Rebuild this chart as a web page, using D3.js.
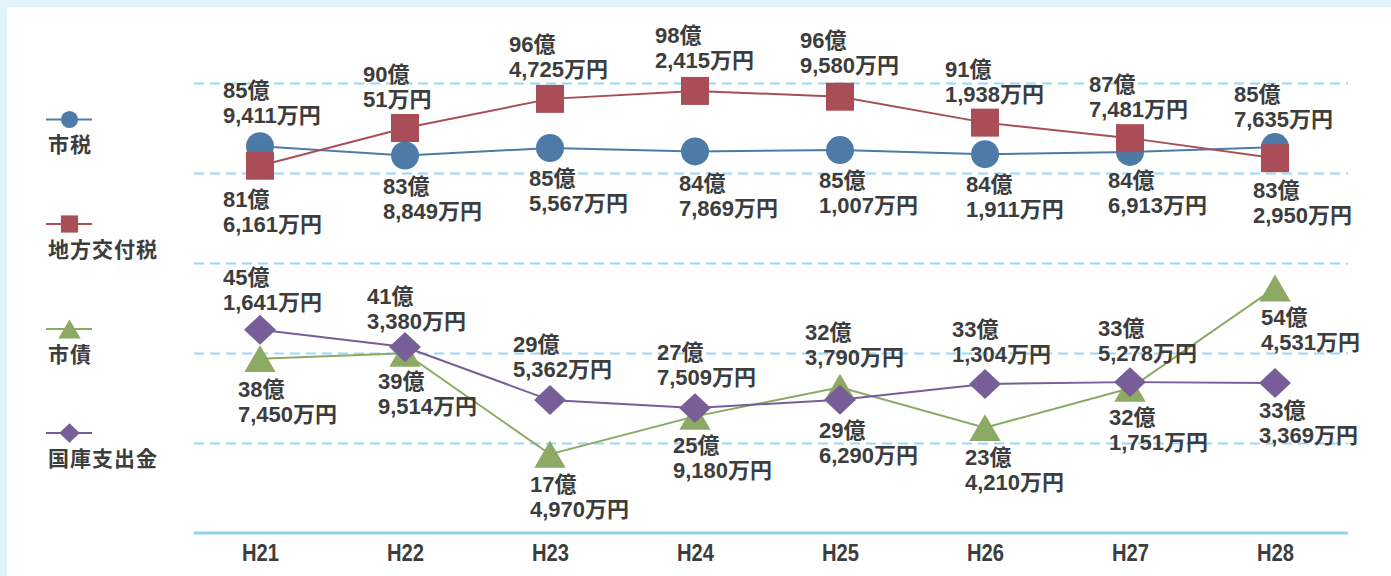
<!DOCTYPE html>
<html>
<head>
<meta charset="utf-8">
<script src="https://cdn.jsdelivr.net/npm/d3@7"></script>
<style>
  html, body { margin: 0; padding: 0; background: #e1f3fb; }
  svg { display: block; }
  text { font-family: "Liberation Sans", "Noto Sans CJK JP", sans-serif; fill: #3d3d3d; }
</style>
</head>
<body>
<svg id="chart" width="1391" height="576"></svg>
<script>
// ---- data (values in 万円) ----
const years = ["H21", "H22", "H23", "H24", "H25", "H26", "H27", "H28"];
const seriesNames = ["市税", "地方交付税", "市債", "国庫支出金"];
const shizei  = [859411, 838849, 855567, 847869, 851007, 841911, 846913, 857635];
const kofuzei = [816161, 900051, 964725, 982415, 969580, 911938, 877481, 832950];
const shisai  = [387450, 399514, 174970, 259180, 323790, 234210, 321751, 544531];
const kokko   = [451641, 413380, 295362, 277509, 296290, 331304, 335278, 333369];
const gridTicks = [20, 40, 60, 80, 100];

// ---- layout / style config ----
const colors = ["#4e7aa8", "#a94e56", "#8caa63", "#785e98"];
const shapes = ["circle", "square", "triangle", "diamond"];
const labelDx = [
  [-37, -22, -21, -16, -21, -19, -22, -41],
  [-37, -42, -41, -40, -40, -40, -41, -22],
  [-22, -27, -20, -22, -35, -20, -21, -14],
  [-37, -38, -37, -38, -21, -33, -32, -16]
];
const labelDy = [
  [-48, 38, 38, 40, 38, 38, 36, -45],
  [41, -46, -47, -48, -49, -46, -46, 40],
  [38, 36, 38, 37, -47, 37, 37, 37],
  [-45, -43, -48, -48, 38, -47, -46, 35]
];

const svg = d3.select("#chart");
svg.append("rect").attr("x", 7).attr("y", 7).attr("width", 1391).attr("height", 576).attr("fill", "#ffffff");

const x = d3.scalePoint().domain(years).range([260, 1275]);
const y = d3.scaleLinear().domain([0, 100]).range([533, 83]);
const gridLeft = 194, gridRight = 1348;

// gridlines
svg.append("g")
  .attr("transform", `translate(${gridLeft},0)`)
  .call(d3.axisLeft(y).tickValues(gridTicks).tickSize(-(gridRight - gridLeft)).tickFormat(""))
  .call(g => g.select(".domain").remove())
  .call(g => g.selectAll(".tick line")
    .attr("stroke", "#9ad8f5").attr("stroke-width", 2).attr("stroke-dasharray", "10,6"));

// x axis
const xAxis = svg.append("g")
  .attr("transform", `translate(0,${y(0)})`)
  .call(d3.axisBottom(x).tickSize(0).tickPadding(11));
xAxis.select(".domain").remove();
xAxis.append("line").attr("x1", gridLeft).attr("x2", gridRight).attr("y1", 0).attr("y2", 0)
  .attr("stroke", "#8ed3f5").attr("stroke-width", 3);
xAxis.selectAll(".tick text")
  .attr("font-size", 24).attr("font-weight", 700).attr("fill", "#3d3d3d")
  .attr("font-family", "Roboto, 'Liberation Sans', sans-serif")
  .attr("textLength", 37).attr("lengthAdjust", "spacingAndGlyphs");

function markerPath(shape, s) {
  if (shape === "square") return `M${-s},${-s}H${s}V${s}H${-s}Z`;
  if (shape === "triangle") { const w = s * 1.12, h = s * 0.96; return `M0,${-h}L${w},${h}L${-w},${h}Z`; }
  if (shape === "diamond") { const w = s * 1.14, h = s * 1.07; return `M0,${-h}L${w},0L0,${h}L${-w},0Z`; }
  return null;
}

function drawMarker(g, shape, cx, cy, s, color) {
  if (shape === "circle") {
    g.append("circle").attr("cx", cx).attr("cy", cy).attr("r", s).attr("fill", color);
  } else {
    g.append("path").attr("d", markerPath(shape, s)).attr("transform", `translate(${cx},${cy})`).attr("fill", color);
  }
}

const allSeries = [shizei, kofuzei, shisai, kokko];
const line = d3.line().x((d, i) => x(years[i])).y(d => y(d / 10000));

allSeries.forEach((vals, si) => {
  const g = svg.append("g");
  g.append("path").datum(vals).attr("d", line)
    .attr("fill", "none").attr("stroke", colors[si]).attr("stroke-width", 2);
  vals.forEach((v, i) => drawMarker(g, shapes[si], x(years[i]), y(v / 10000), 14, colors[si]));
});

// labels
const fmt = d3.format(",");
allSeries.forEach((vals, si) => {
  const g = svg.append("g");
  vals.forEach((v, i) => {
    const oku = Math.floor(v / 10000), man = v % 10000;
    const px = x(years[i]) + labelDx[si][i], py = y(v / 10000) + labelDy[si][i];
    g.append("text").attr("x", px).attr("y", py).attr("font-size", 22).attr("font-weight", 700).text(oku + "億");
    g.append("text").attr("x", px).attr("y", py + 25).attr("font-size", 22).attr("font-weight", 700).text(fmt(man) + "万円");
  });
});

// legend
const legendY = [119.5, 224, 329, 433];
const legend = svg.append("g");
seriesNames.forEach((name, si) => {
  const ly = legendY[si];
  legend.append("line").attr("x1", 46).attr("x2", 92).attr("y1", ly).attr("y2", ly)
    .attr("stroke", colors[si]).attr("stroke-width", 2);
  drawMarker(legend, shapes[si], 69.5, ly, shapes[si] === "triangle" ? 10 : (shapes[si] === "diamond" ? 9 : 8.6), colors[si]);
  legend.append("text").attr("x", 48).attr("y", ly + 32.5)
    .attr("font-size", 21).attr("font-weight", 700).attr("letter-spacing", 1).text(name);
});
</script>
</body>
</html>
